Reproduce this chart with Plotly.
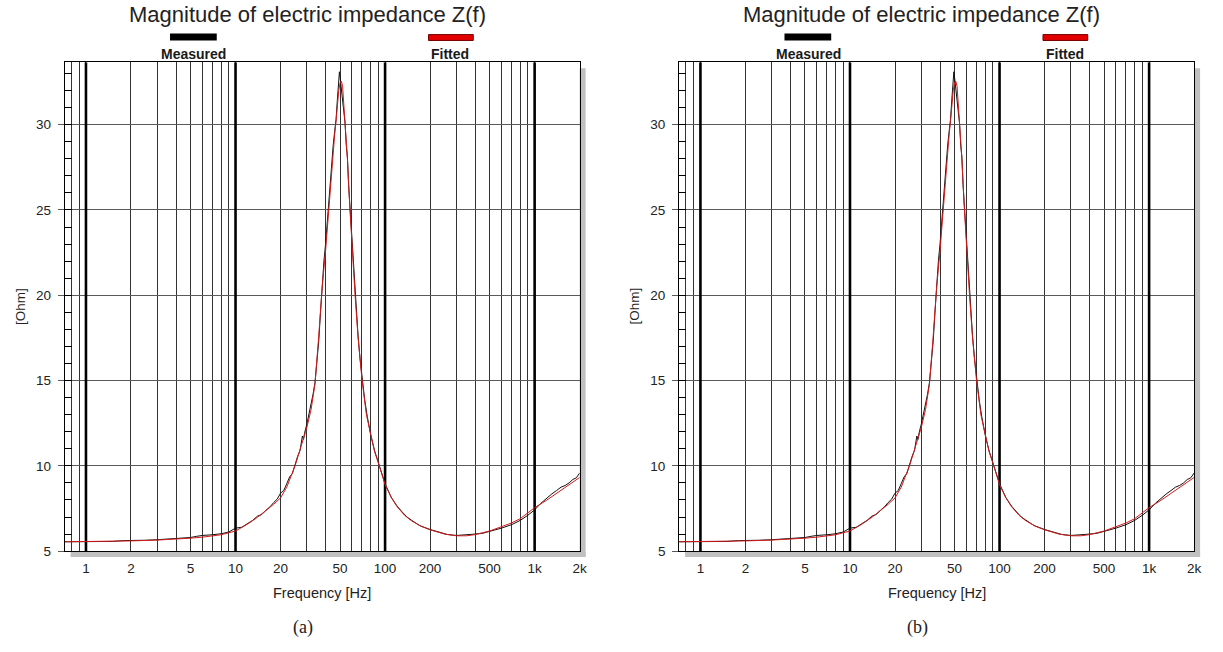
import math
import plotly.graph_objects as go

W, H = 1223, 652

# ---------------- data ----------------
f_fit = [0.72, 1, 1.5, 2, 3, 4, 5, 6, 7, 8, 10, 12, 14, 16, 18, 20, 22, 25, 28, 30,
         32, 34, 36, 38, 40, 42, 44, 46, 47, 48, 49, 50, 51, 52, 53, 54, 55, 56, 58, 60,
         63, 66, 70, 75, 80, 85, 90, 100, 110, 120, 135, 150, 175, 200, 250, 300, 350,
         400, 500, 600, 700, 800, 1000, 1200, 1500, 1800, 2000]
z_fit = [5.55, 5.56, 5.58, 5.60, 5.65, 5.70, 5.76, 5.82, 5.88, 5.96, 6.18, 6.58, 6.98, 7.38,
         7.75, 8.12, 8.75, 10.0, 11.35, 12.25, 13.3, 14.8, 17.6, 20.5, 22.6, 25.1, 27.5,
         29.4, 30.2, 31.2, 32.0, 32.45, 32.55, 32.25, 31.2, 30.3, 29.2, 28.0, 25.3, 22.9,
         20.0, 17.5, 15.1, 13.0, 11.8, 10.85, 10.2, 8.9, 8.15, 7.62, 7.1, 6.78, 6.45, 6.25,
         6.0, 5.9, 5.9, 5.97, 6.18, 6.42, 6.65, 6.9, 7.55, 7.98, 8.55, 9.05, 9.32]

f_meas = [0.72, 1, 1.5, 1.8, 2, 2.5, 3, 3.5, 4, 4.5, 5, 5.5, 6, 7, 8, 9, 10, 11, 12, 13,
          14, 15, 16, 17, 18, 19, 20, 21, 22, 23, 24, 25, 26, 27, 28, 28.5, 29, 30, 31, 32,
          33, 34, 35, 36, 37, 38, 39, 40, 41, 42, 43, 44, 45, 46, 47, 48, 49, 49.5, 50, 51,
          52, 53, 54, 55, 56, 57, 58, 59, 60, 62, 64, 66, 68, 70, 73, 76, 80, 85, 90, 95,
          100, 110, 120, 130, 140, 150, 170, 200, 230, 260, 300, 350, 400, 450, 500, 550,
          600, 700, 800, 900, 1000, 1100, 1200, 1300, 1400, 1500, 1600, 1700, 1800, 1900,
          2000]
z_meas = [5.55, 5.56, 5.57, 5.62, 5.62, 5.64, 5.67, 5.70, 5.72, 5.75, 5.80, 5.87, 5.92,
          5.96, 6.02, 6.12, 6.35, 6.40, 6.62, 6.80, 7.05, 7.15, 7.40, 7.60, 7.85, 8.05,
          8.40, 8.55, 8.95, 9.35, 9.55, 10.10, 10.55, 10.90, 11.75, 11.55, 11.95, 12.45,
          13.0, 13.55, 14.2, 14.9, 16.0, 17.3, 19.0, 20.8, 22.0, 23.0, 24.3, 25.3, 26.8,
          27.7, 28.8, 29.6, 30.3, 31.5, 32.6, 33.1, 32.8, 32.0, 31.6, 30.6, 30.1, 28.8,
          28.1, 26.5, 25.4, 24.0, 23.0, 21.0, 19.2, 17.6, 16.3, 15.2, 13.9, 12.9, 11.85,
          10.9, 10.2, 9.5, 8.95, 8.15, 7.65, 7.3, 7.0, 6.82, 6.5, 6.27, 6.1, 5.98, 5.92,
          5.95, 6.0, 6.05, 6.15, 6.25, 6.35, 6.55, 6.8, 7.1, 7.42, 7.8, 8.1, 8.35, 8.55,
          8.75, 8.85, 9.0, 9.2, 9.3, 9.58]

x_grid = [0.8, 0.9, 1, 2, 3, 4, 5, 6, 7, 8, 9, 10, 20, 30, 40, 50, 60, 70, 80, 90,
          100, 200, 300, 400, 500, 600, 700, 800, 900, 1000, 2000]
x_labels = {1: "1", 2: "2", 5: "5", 10: "10", 20: "20", 50: "50", 100: "100",
            200: "200", 500: "500", 1000: "1k", 2000: "2k"}
decades = [1, 10, 100, 1000]
x_min, x_max = 0.72, 2000
y_min, y_max = 5, 33.66

title_text = "Magnitude of electric impedance Z(f)"
legend_names = ["Measured", "Fitted"]
captions = ["(a)", "(b)"]

# ---------------- layout helpers ----------------
def px(x):
    return x / W

def py(y):
    return 1 - y / H

FONT = "Liberation Sans, Arial, sans-serif"
fig = go.Figure()
shapes, annos = [], []
layout = {}

panel_offsets = [0, 618]
for i, off in enumerate(panel_offsets):
    n = "" if i == 0 else str(i + 1)
    xa, ya = "x" + n, "y" + n
    L, R, T, B = 65 + off, 583 + off, 63, 558

    # decade lines (thick)
    for d in decades:
        fig.add_trace(go.Scatter(x=[d, d], y=[y_min, y_max], mode="lines",
                                 line=dict(color="black", width=2.6),
                                 hoverinfo="skip", showlegend=False,
                                 xaxis=xa, yaxis=ya))
    fig.add_trace(go.Scatter(x=f_meas, y=z_meas, mode="lines",
                             line=dict(color="#111111", width=1),
                             name=legend_names[0], showlegend=False,
                             xaxis=xa, yaxis=ya))
    fig.add_trace(go.Scatter(x=f_fit, y=z_fit, mode="lines",
                             line=dict(color="#d41a1a", width=1),
                             name=legend_names[1], showlegend=False,
                             xaxis=xa, yaxis=ya))

    layout["xaxis" + n] = dict(
        type="log", range=[math.log10(x_min), math.log10(x_max)],
        domain=[px(L), px(R)], anchor=ya,
        tickmode="array", tickvals=x_grid,
        ticktext=[x_labels.get(v, "") for v in x_grid],
        showgrid=True, gridcolor="#333333", gridwidth=1,
        ticks="outside", ticklen=5, tickcolor="rgba(0,0,0,0)",
        showline=True, linecolor="black", linewidth=1, mirror=True,
        zeroline=False,
        tickfont=dict(family=FONT, size=13.5, color="#222222"),
    )
    layout["yaxis" + n] = dict(
        range=[y_min, y_max], domain=[py(B), py(T)], anchor=xa,
        tickmode="linear", tick0=0, dtick=5,
        showgrid=True, gridcolor="#5a5a5a", gridwidth=1.2,
        ticks="outside", ticklen=6, tickcolor="#5a5a5a",
        minor=dict(tickmode="linear", tick0=0, dtick=1, ticks="inside",
                   ticklen=7, tickcolor="black", tickwidth=1, showgrid=False),
        showline=True, linecolor="black", linewidth=1, mirror=True,
        zeroline=False, ticklabelstandoff=4,
        tickfont=dict(family=FONT, size=13.5, color="#222222"),
    )

    # drop shadow
    shapes.append(dict(type="rect", xref="paper", yref="paper", layer="below",
                       x0=px(R), x1=px(R + 6), y0=py(B + 6), y1=py(T + 6),
                       fillcolor="#c0c0c0", line=dict(width=0)))
    shapes.append(dict(type="rect", xref="paper", yref="paper", layer="below",
                       x0=px(L + 6), x1=px(R + 6), y0=py(B + 6), y1=py(B),
                       fillcolor="#c0c0c0", line=dict(width=0)))

    # legend swatches
    shapes.append(dict(type="rect", xref="paper", yref="paper",
                       x0=px(171 + off), x1=px(218 + off), y0=py(41), y1=py(34),
                       fillcolor="black", line=dict(width=0)))
    shapes.append(dict(type="rect", xref="paper", yref="paper",
                       x0=px(431 + off), x1=px(476 + off), y0=py(41), y1=py(35),
                       fillcolor="#e00000", line=dict(color="#7a0000", width=1)))
    annos.append(dict(text="<b>%s</b>" % legend_names[0], xref="paper", yref="paper",
                      x=px(195 + off), y=py(55), showarrow=False,
                      xanchor="center", yanchor="middle",
                      font=dict(family=FONT, size=14, color="#1a1a1a")))
    annos.append(dict(text="<b>%s</b>" % legend_names[1], xref="paper", yref="paper",
                      x=px(453 + off), y=py(55), showarrow=False,
                      xanchor="center", yanchor="middle",
                      font=dict(family=FONT, size=14, color="#1a1a1a")))

    # title
    annos.append(dict(text=title_text, xref="paper", yref="paper",
                      x=px(309 + off), y=py(15), showarrow=False,
                      xanchor="center", yanchor="middle",
                      font=dict(family=FONT, size=22, color="#222222")))
    # axis titles
    annos.append(dict(text="Frequency [Hz]", xref="paper", yref="paper",
                      x=px(324 + off), y=py(600), showarrow=False,
                      xanchor="center", yanchor="middle",
                      font=dict(family=FONT, size=14.5, color="#222222")))
    annos.append(dict(text="[Ohm]", xref="paper", yref="paper",
                      x=px(20 + off), y=py(310), showarrow=False, textangle=-90,
                      xanchor="center", yanchor="middle",
                      font=dict(family=FONT, size=13.5, color="#222222")))
    # caption
    annos.append(dict(text=captions[i], xref="paper", yref="paper",
                      x=px(305 + off), y=py(635), showarrow=False,
                      xanchor="center", yanchor="middle",
                      font=dict(family="Liberation Serif, DejaVu Serif, serif",
                                size=18, color="#222222")))

fig.update_layout(
    width=W, height=H, margin=dict(l=0, r=0, t=0, b=0),
    paper_bgcolor="white", plot_bgcolor="white",
    shapes=shapes, annotations=annos, showlegend=False,
    **layout,
)

fig.write_html("out.html")
